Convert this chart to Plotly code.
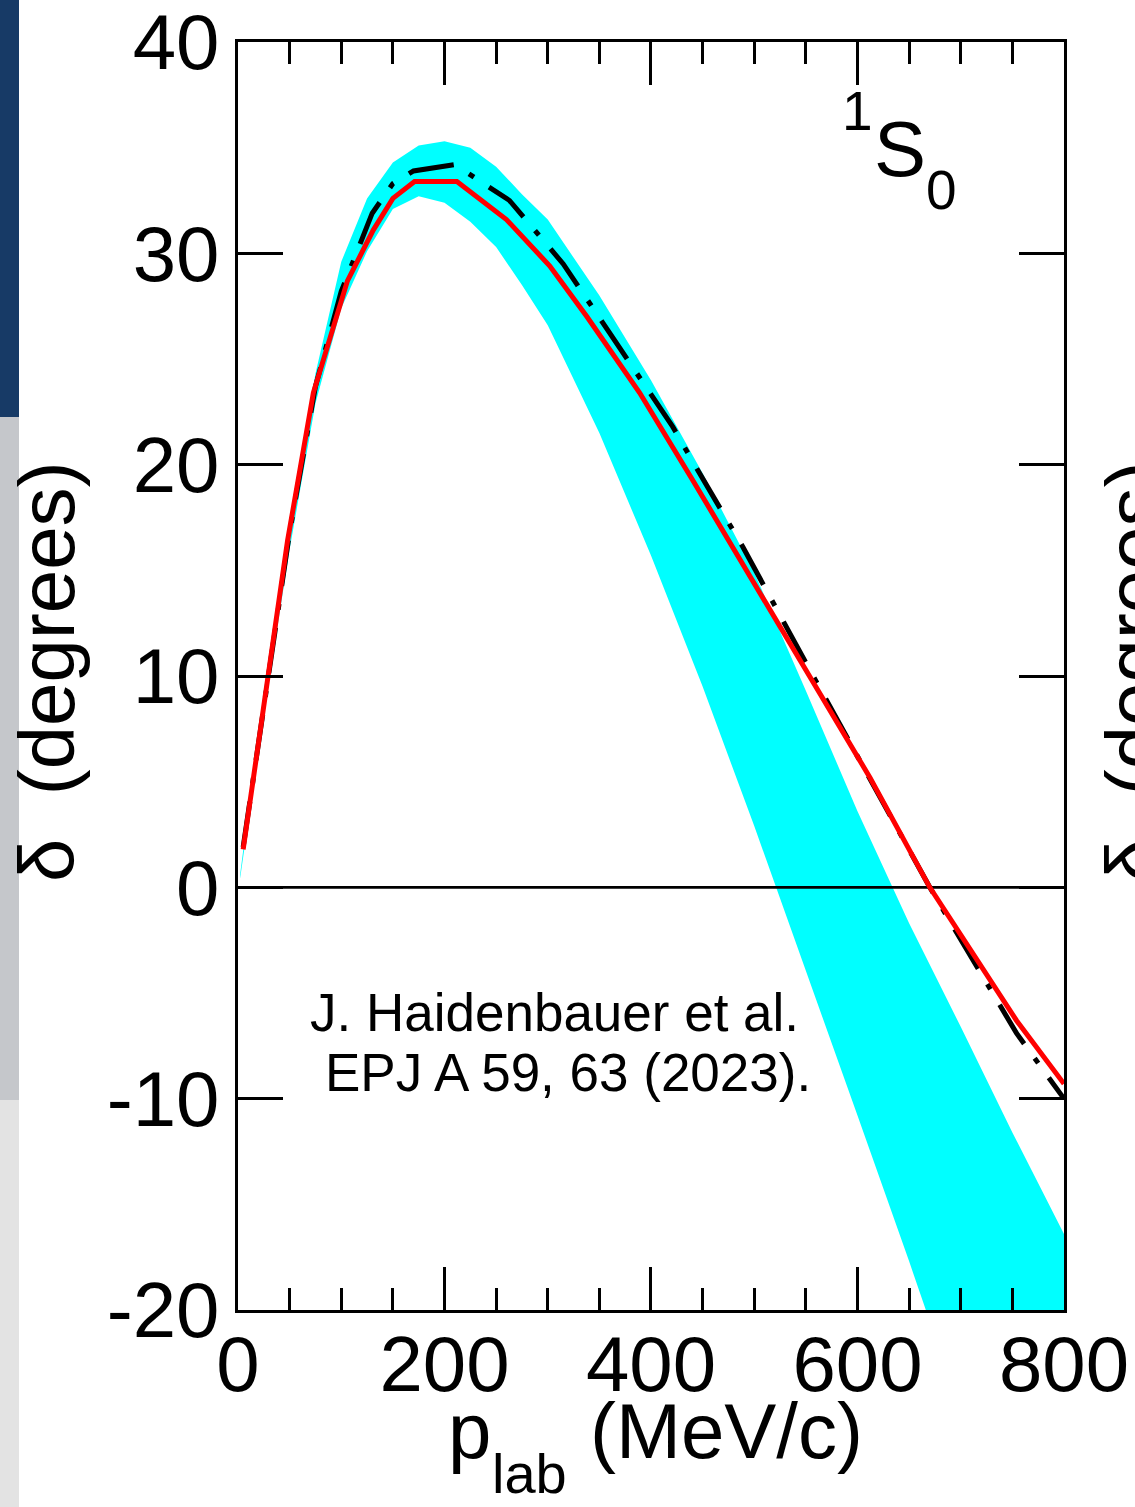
import plotly.graph_objects as go

# ---- data ----
band_x = [2, 25, 50, 75, 100, 125, 150, 175, 200, 225, 250, 275, 300, 350, 400, 450, 500, 550, 600, 650, 700, 750, 800]
band_upper = [0.6, 9.3, 17.2, 24.3, 29.6, 32.6, 34.3, 35.1, 35.3, 35.0, 34.1, 32.8, 31.6, 28.0, 24.0, 19.6, 14.9, 9.3, 3.6, -1.7, -6.6, -11.6, -16.4]
band_lower = [0.4, 8.2, 16.0, 22.9, 27.4, 30.1, 32.1, 32.7, 32.4, 31.5, 30.3, 28.5, 26.6, 21.5, 15.7, 9.5, 2.9, -3.9, -10.8, -17.7, -24.8, -32.3, -40.0]

red_x = [5, 48, 73, 106, 131, 150, 171, 212, 260, 302, 338, 389, 440, 496, 551, 612, 670, 754, 800]
red_y = [1.8, 16.4, 23.4, 28.7, 31.1, 32.6, 33.4, 33.4, 31.6, 29.4, 27.0, 23.4, 19.3, 14.7, 10.1, 5.2, 0.0, -6.3, -9.3]

black_x = [5, 50, 75, 100, 130, 150, 170, 210, 263, 315, 370, 421, 441, 489, 557, 612, 670, 754, 800]
black_y = [1.9, 16.8, 23.7, 28.2, 31.9, 33.3, 33.9, 34.2, 32.5, 29.5, 25.5, 21.8, 20.1, 16.1, 10.0, 5.1, 0.0, -6.9, -10.0]

x_range = [0, 800]
y_range = [-20, 40]
x_tickvals = [0, 200, 400, 600, 800]
x_ticktext = ["0", "200", "400", "600", "800"]
y_tickvals = [-20, -10, 0, 10, 20, 30, 40]
y_ticktext = ["-20", "-10", "0", "10", "20", "30", "40"]

FONT = "Liberation Sans, Arial, sans-serif"

W, H = 1135, 1507
L, R, T, B = 238, 71, 42, 197
PW, PH = W - L - R, H - T - B


def px_x(p):
    return (p - L) / PW


def px_y(p):
    return (H - B - p) / PH


fig = go.Figure()

# uncertainty band
fig.add_trace(go.Scatter(x=band_x, y=band_lower, mode="lines", line=dict(width=0, color="#00ffff"),
                         hoverinfo="skip"))
fig.add_trace(go.Scatter(x=band_x, y=band_upper, mode="lines", line=dict(width=0, color="#00ffff"),
                         fill="tonexty", fillcolor="#00ffff", hoverinfo="skip"))
# zero line
fig.add_trace(go.Scatter(x=x_range, y=[0, 0], mode="lines", line=dict(color="black", width=2.8),
                         hoverinfo="skip"))
# dash-dot curve
fig.add_trace(go.Scatter(x=black_x, y=black_y, mode="lines",
                         line=dict(color="black", width=5, dash="46px,18px,6px,18px")))
# red curve
fig.add_trace(go.Scatter(x=red_x, y=red_y, mode="lines", line=dict(color="#ff0000", width=5)))

axis_common = dict(showline=True, linecolor="black", linewidth=3, mirror="ticks", ticks="inside",
                   tickcolor="black", tickwidth=2.5, showgrid=False, zeroline=False, automargin=False,
                   ticklabeloverflow="allow",
                   tickfont=dict(family=FONT, size=78, color="black"))

fig.update_xaxes(range=[x_range[0], x_range[1] + 0.01], tickmode="array", tickvals=x_tickvals,
                 ticktext=x_ticktext, ticklen=43, ticklabelstandoff=-16,
                 minor=dict(dtick=50, tick0=0, ticks="inside", ticklen=22, tickwidth=2.5, tickcolor="black",
                            showgrid=False),
                 **axis_common)
fig.update_yaxes(range=[y_range[0] - 0.001, y_range[1] + 0.001], tickmode="array", tickvals=y_tickvals,
                 ticktext=y_ticktext, ticklen=45, **axis_common)

shapes = [
    dict(type="rect", xref="paper", yref="paper", x0=px_x(0), x1=px_x(19), y0=px_y(0), y1=px_y(417),
         fillcolor="#173a66", line=dict(width=0), layer="below"),
    dict(type="rect", xref="paper", yref="paper", x0=px_x(0), x1=px_x(19), y0=px_y(417), y1=px_y(1100),
         fillcolor="#c5c7cb", line=dict(width=0), layer="below"),
    dict(type="rect", xref="paper", yref="paper", x0=px_x(0), x1=px_x(19), y0=px_y(1100), y1=px_y(1507),
         fillcolor="#e3e3e3", line=dict(width=0), layer="below"),
]


def ann(text, x, y, size, xanchor="center", angle=0):
    return dict(text=text, xref="paper", yref="paper", x=px_x(x), y=px_y(y), textangle=angle,
                showarrow=False, xanchor=xanchor, yanchor="middle",
                font=dict(family=FONT, size=size, color="black"))


annotations = [
    ann("δ  (degrees)", 47, 672, 78, angle=-90),
    ann("δ  (degrees)", 1134, 672, 78, angle=-90),
    ann("p", 469, 1431, 78),
    ann("lab", 490, 1473, 56, xanchor="left"),
    ann("(MeV/c)", 588, 1431, 78, xanchor="left"),
    ann("1", 857, 111, 55),
    ann("S", 900, 149, 78),
    ann("0", 941, 190, 55),
    ann("J. Haidenbauer et al.", 308, 1012, 53, xanchor="left"),
    ann("EPJ A 59, 63 (2023).", 323, 1072, 53, xanchor="left"),
]

fig.update_layout(width=W, height=H, margin=dict(l=L, r=R, t=T, b=B, autoexpand=False), paper_bgcolor="white",
                  plot_bgcolor="white", showlegend=False, shapes=shapes, annotations=annotations,
                  font=dict(family=FONT, size=78, color="black"))

fig.write_html("out.html")
